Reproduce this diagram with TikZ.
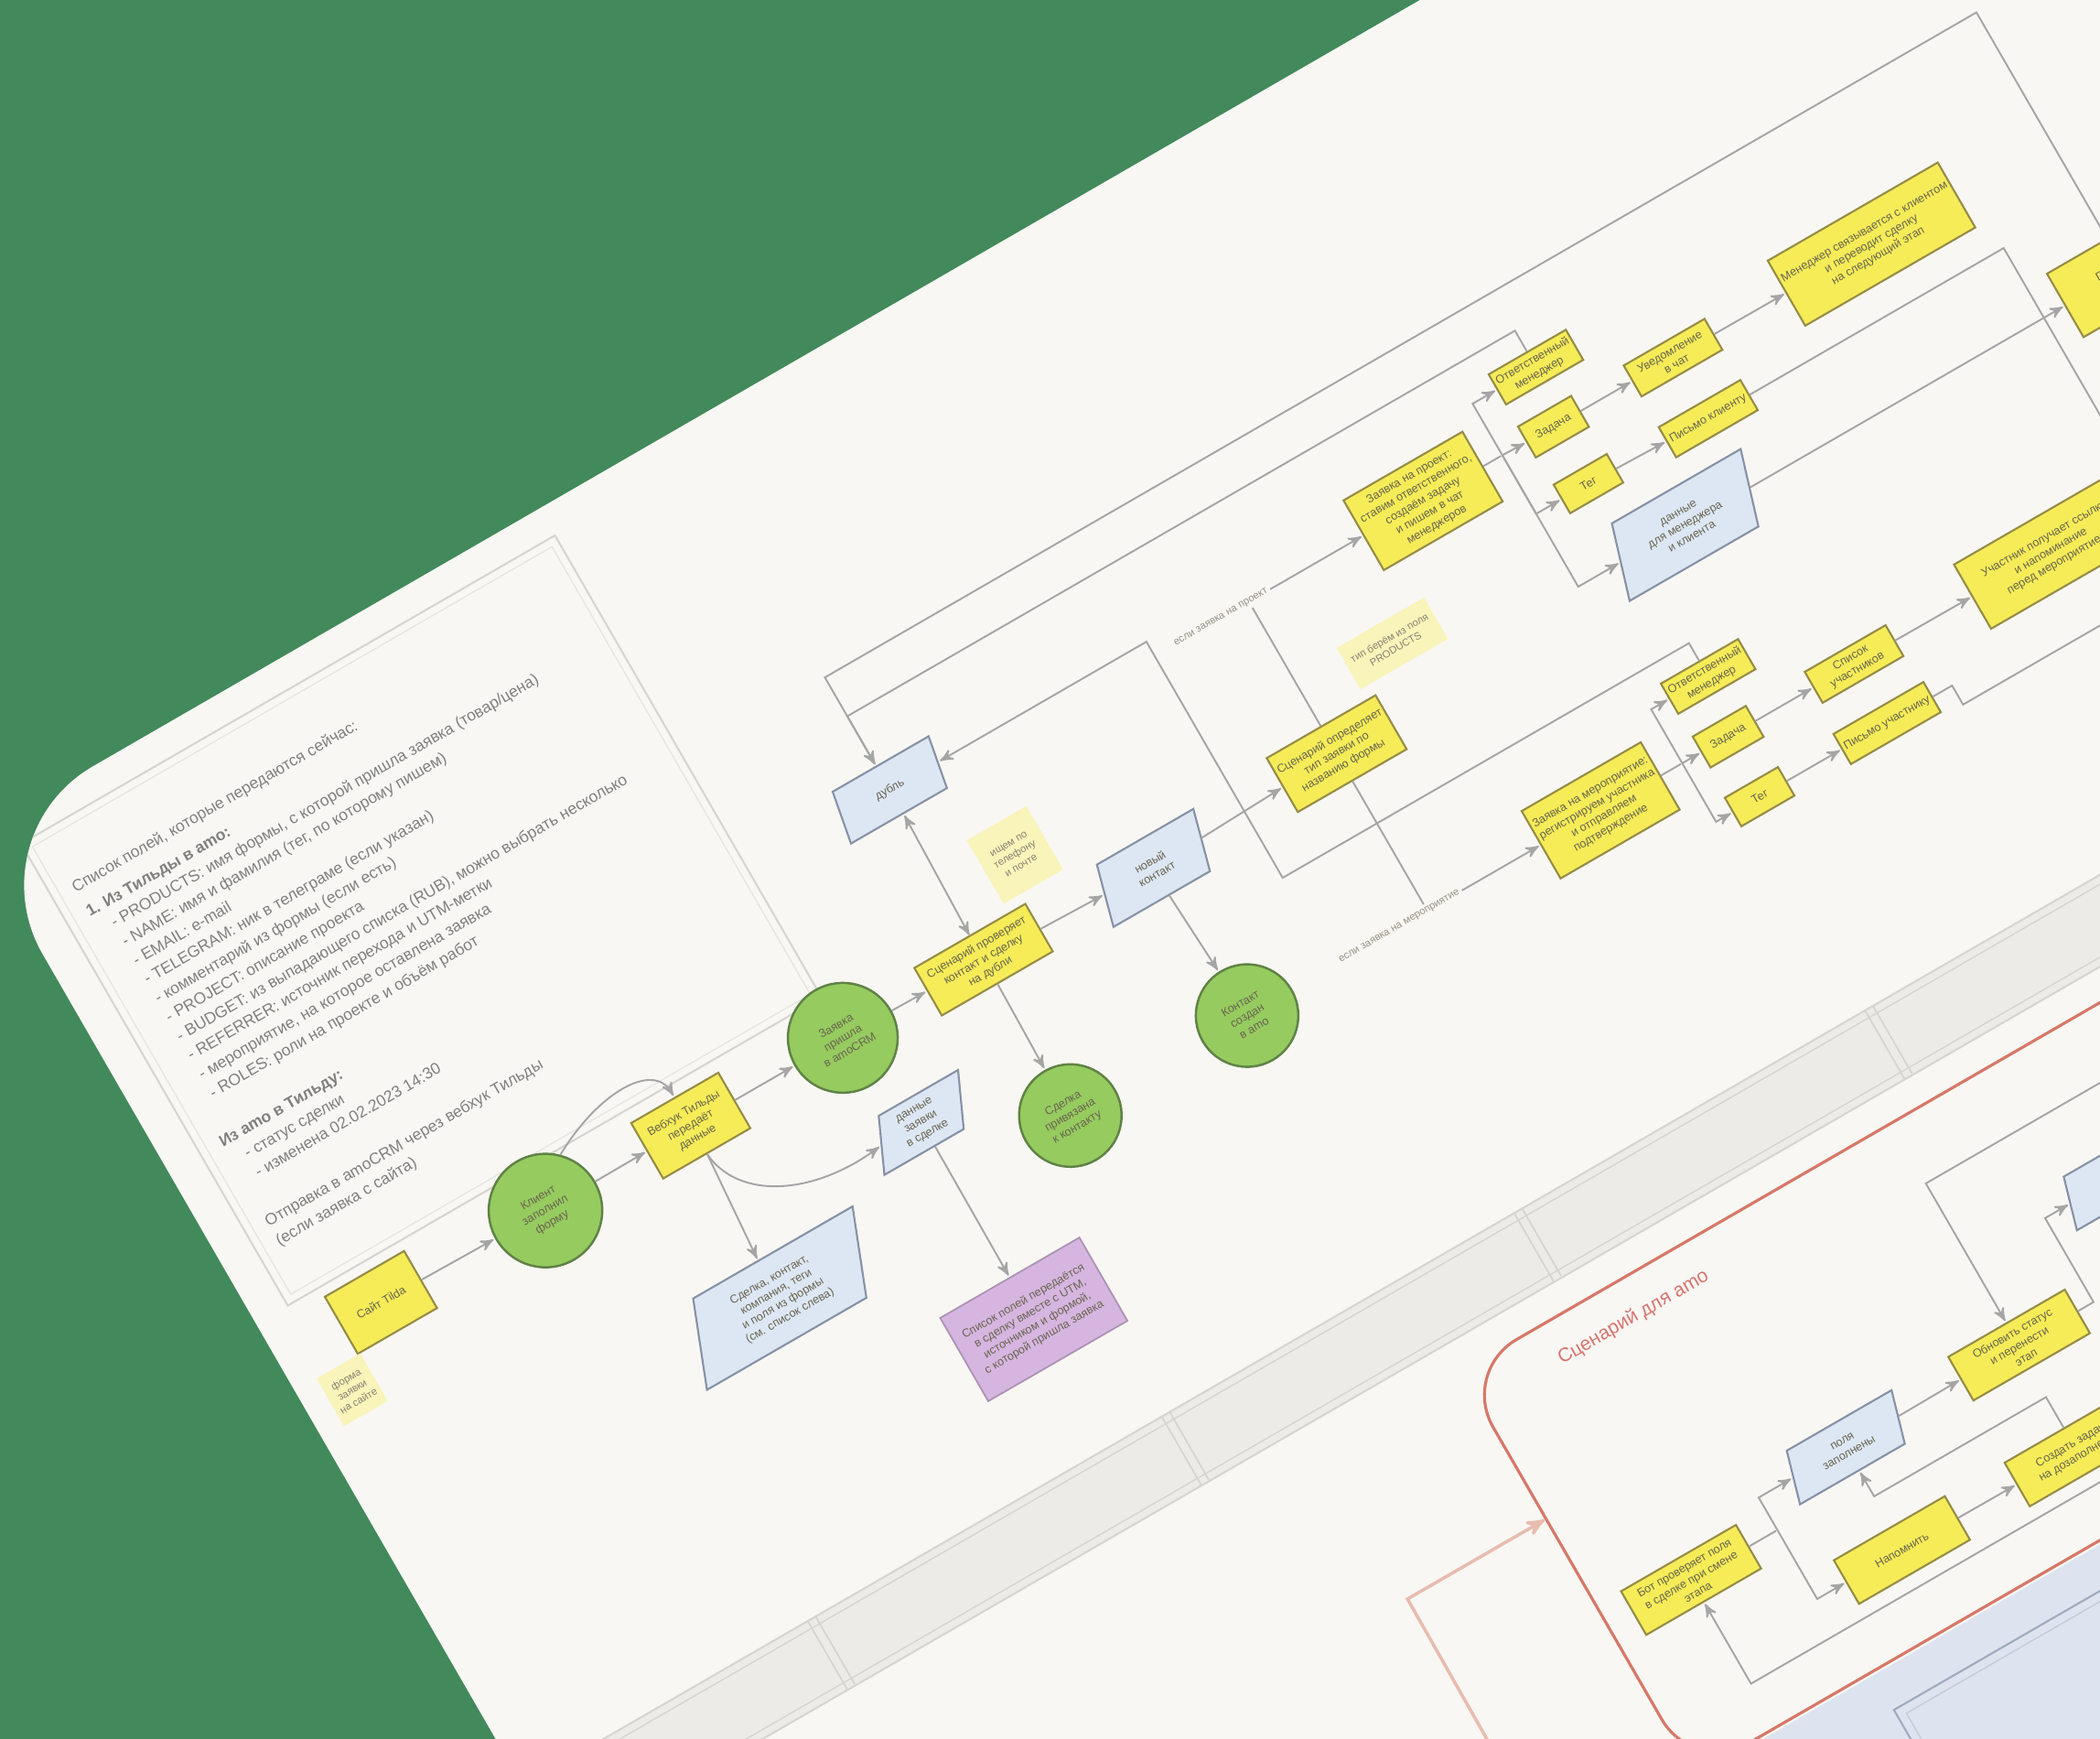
\documentclass[tikz,border=0pt]{standalone}
\usepackage{fontspec}
\setmainfont{Liberation Sans}
\usepackage{tikz}
\usetikzlibrary{arrows,shapes.geometric,positioning}

\definecolor{bggreen}{RGB}{66,137,91}
\definecolor{card}{RGB}{248,247,243}
\definecolor{procfill}{RGB}{245,236,88}
\definecolor{procline}{RGB}{150,140,70}
\definecolor{evfill}{RGB}{150,203,95}
\definecolor{evline}{RGB}{95,130,70}
\definecolor{datafill}{RGB}{221,231,244}
\definecolor{dataline}{RGB}{135,145,165}
\definecolor{notefill}{RGB}{249,244,185}
\definecolor{purp}{RGB}{214,182,224}
\definecolor{linkgray}{RGB}{165,165,165}
\definecolor{lane}{RGB}{236,235,231}
\definecolor{laneline}{RGB}{214,213,209}
\definecolor{redline}{RGB}{214,120,105}
\definecolor{redtext}{RGB}{215,115,110}
\definecolor{salmon}{RGB}{232,188,176}
\definecolor{bluezone}{RGB}{221,228,239}
\definecolor{bluezoneline}{RGB}{160,170,190}
\definecolor{txt}{RGB}{105,100,80}

\begin{document}
\begin{tikzpicture}[>=stealth', shorten >=0.5pt, semithick]
\tikzstyle{proc}=[rectangle, draw=procline, fill=procfill, line width=0.6pt, text=txt, align=center, inner sep=1pt, font=\fontsize{3.6}{4.3}\selectfont]
\tikzstyle{event}=[circle, draw=evline, fill=evfill, line width=0.7pt, text=txt, align=center, inner sep=1pt, font=\fontsize{3.6}{4.3}\selectfont]
\tikzstyle{data}=[trapezium, trapezium left angle=60, trapezium right angle=120, trapezium stretches body, draw=dataline, fill=datafill, line width=0.6pt, text=txt, align=center, inner sep=1pt, font=\fontsize{3.6}{4.3}\selectfont]
\tikzstyle{note}=[rectangle, fill=notefill, text=txt!80, align=center, inner sep=1pt, font=\fontsize{3.2}{3.9}\selectfont]
\tikzstyle{doc}=[rectangle, fill=purp, draw=purp!80!black, line width=0.5pt, text=txt, align=center, font=\fontsize{3.6}{4.3}\selectfont]
\tikzstyle{link}=[draw=linkgray, line width=0.55pt]
\tikzstyle{lbl}=[fill=card, text=txt!70, inner sep=1pt, font=\fontsize{3.2}{3.8}\selectfont]

\fill[bggreen] (0,0) rectangle (22.95,19);
\useasboundingbox (0,0) rectangle (22.95,19);

\begin{scope}[shift={(-0.285,9.876)}, rotate=30, x=0.01cm, y=-0.01cm, transform shape]
\fill[card, rounded corners=1.5cm] (0,0) rectangle (2600,2300);
\begin{scope}
\clip[rounded corners=1.5cm] (0,0) rectangle (2600,2300);

% lane header
\fill[lane] (0,1200) rectangle (2600,1287);
\draw[laneline, line width=0.6pt] (0,1200) -- (2600,1200) (0,1287) -- (2600,1287);
\draw[laneline, line width=0.4pt] (0,1209) -- (2600,1209) (0,1278) -- (2600,1278);
\foreach \pos in {365,812,1257,1700,2145}
  \draw[laneline, line width=0.5pt] (\pos-5,1200) -- (\pos-5,1287) (\pos+5,1200) -- (\pos+5,1287);

% field list
\draw[laneline, line width=0.6pt] (40,34) rectangle (714,617);
\draw[laneline!60, line width=0.4pt] (49,43) rectangle (705,608);
\node[anchor=north west, align=left, text=black!50, inner sep=0pt, font=\fontsize{5}{6.8}\selectfont] (list) at (64,96) {%
Список полей, которые передаются сейчас:\\[2pt]
\textbf{1. Из Тильды в amo:}\\
\quad- PRODUCTS: имя формы, с которой пришла заявка (товар/цена)\\
\quad- NAME: имя и фамилия (тег, по которому пишем)\\
\quad- EMAIL: e-mail\\
\quad- TELEGRAM: ник в телеграме (если указан)\\
\quad- комментарий из формы (если есть)\\
\quad- PROJECT: описание проекта\\
\quad- BUDGET: из выпадающего списка (RUB), можно выбрать несколько\\
\quad- REFERRER: источник перехода и UTM-метки\\
\quad- мероприятие, на которое оставлена заявка\\
\quad- ROLES: роли на проекте и объём работ\\[8pt]
\textbf{Из amo в Тильду:}\\
\quad- статус сделки\\
\quad- изменена 02.02.2023 14:30\\[8pt]
Отправка в amoCRM через вебхук Тильды\\
(если заявка с сайта)};

% amo zone
\fill[bluezone] (1190,1834) rectangle (2700,2400);
\draw[bluezoneline, line width=0.6pt] (1340,1878) rectangle (2700,2400);
\draw[bluezoneline!60, line width=0.4pt] (1350,1888) rectangle (2700,2400);
\draw[redline, line width=0.9pt, rounded corners=0.7cm] (1115,1321) rectangle (2700,1830);
\node[anchor=west, text=redtext, font=\fontsize{6}{7}\selectfont] (zonetitle) at (1202,1364) {Сценарий для amo};

% lower chain
\node[proc, minimum width=1cm, minimum height=0.72cm] (site) at (130,665) {Сайт Tilda};
\node[note, minimum width=0.55cm, minimum height=0.6cm] (sitenote) at (55,732) {форма\\заявки\\на сайте};
\node[event, minimum size=1.24cm] (ev1) at (336,668) {Клиент\\заполнил\\форму};
\node[proc, minimum width=1.1cm, minimum height=0.7cm] (hook) at (520,667) {Вебхук Тильды\\передаёт\\данные};
\node[event, minimum size=1.2cm] (ev2) at (712,667) {Заявка\\пришла\\в amoCRM};
\node[proc, minimum width=1.4cm, minimum height=0.6cm] (check) at (888,670) {Сценарий проверяет\\контакт и сделку\\на дубли};
\node[data, minimum width=1.32cm, minimum height=0.59cm] (dup) at (892,458) {дубль};
\node[note, minimum width=0.75cm, minimum height=0.8cm] (chknote) at (975,588) {ищем по\\телефону\\и почте};
\node[data, minimum width=1.4cm, minimum height=0.68cm] (newc) at (1099,676) {новый\\контакт};
\node[event, minimum size=1.12cm] (ev3) at (1107,867) {Контакт\\создан\\в amo};
\node[event, minimum size=1.12cm] (ev4) at (885,865) {Сделка\\привязана\\к контакту};
\node[data, minimum width=1.27cm, minimum height=0.59cm] (req) at (740,790) {данные\\заявки\\в сделке};
\node[data, minimum width=2.38cm, minimum height=0.94cm] (deal) at (510,879) {Сделка, контакт,\\компания, теги\\и поля из формы\\(см. список слева)};
\node[doc, minimum width=1.65cm, minimum height=1.05cm] (fields) at (739,1038) {Список полей передаётся\\в сделку вместе с UTM,\\источником и формой,\\с которой пришла заявка};

% branching
\node[proc, minimum width=1.3cm, minimum height=0.68cm] (type) at (1335,668) {Сценарий определяет\\тип заявки по\\названию формы};
\node[note, minimum width=1.1cm, minimum height=0.52cm] (typenote) at (1448,594) {тип берём из поля\\PRODUCTS};
\node[proc, minimum width=1.5cm, minimum height=0.88cm] (proj) at (1555,476) {Заявка на проект:\\ставим ответственного,\\создаём задачу\\и пишем в чат\\менеджеров};
\node[proc, minimum width=0.96cm, minimum height=0.38cm] (s1) at (1735,411) {Ответственный\\менеджер};
\node[proc, minimum width=0.67cm, minimum height=0.39cm] (s2) at (1719,477) {Задача};
\node[proc, minimum width=0.67cm, minimum height=0.36cm] (s3) at (1721,550) {Тег};
\node[proc, minimum width=1.02cm, minimum height=0.39cm] (s4) at (1870,477) {Уведомление\\в чат};
\node[proc, minimum width=1.03cm, minimum height=0.38cm] (s5) at (1870,554) {Письмо клиенту};
\node[data, minimum width=1.88cm, minimum height=0.83cm] (pd) at (1790,642) {данные\\для менеджера\\и клиента};
\node[proc, minimum width=1.98cm, minimum height=0.82cm] (mgr) at (2120,478) {Менеджер связывается с клиентом\\и переводит сделку\\на следующий этап};
\node[proc, minimum width=1.52cm, minimum height=0.8cm] (nxt) at (2346,642) {Повторная\\проверка};
\node[proc, minimum width=1.45cm, minimum height=0.85cm] (evt) at (1554,866) {Заявка на мероприятие:\\регистрируем участника\\и отправляем\\подтверждение};
\node[proc, minimum width=0.96cm, minimum height=0.38cm] (l1) at (1729,798) {Ответственный\\менеджер};
\node[proc, minimum width=0.67cm, minimum height=0.39cm] (l2) at (1715,866) {Задача};
\node[proc, minimum width=0.67cm, minimum height=0.36cm] (l3) at (1712,940) {Тег};
\node[proc, minimum width=1.02cm, minimum height=0.39cm] (l4) at (1874,866) {Список\\участников};
\node[proc, minimum width=1.03cm, minimum height=0.38cm] (l5) at (1873,940) {Письмо участнику};
\node[proc, minimum width=1.98cm, minimum height=0.81cm] (conf) at (2122,867) {Участник получает ссылку\\и напоминание\\перед мероприятием};

% amo scenario
\node[proc, minimum width=1.45cm, minimum height=0.55cm] (r1) at (1219,1644) {Бот проверяет поля\\в сделке при смене\\этапа};
\node[data, minimum width=1.49cm, minimum height=0.58cm] (rp1) at (1438,1603) {поля\\заполнены};
\node[proc, minimum width=1.4cm, minimum height=0.55cm] (r2) at (1435,1731) {Напомнить};
\node[proc, minimum width=1.47cm, minimum height=0.55cm] (r3) at (1658,1601) {Обновить статус\\и перенести\\этап};
\node[proc, minimum width=1.5cm, minimum height=0.55cm] (r4) at (1655,1732) {Создать задачу\\на дозаполнение};
\node[data, minimum width=1.49cm, minimum height=0.58cm] (rp2) at (1850,1495) {этап\\изменён};

% connectors
\draw[link,->] (site) -- (ev1);
\draw[link,->] (ev1) -- (hook);
\draw[link,->] (hook) -- (ev2);
\draw[link,->] (ev2) -- (check);
\draw[link,->] (check) -- (newc);
\draw[link,->] (newc) -- (type);
\draw[link,<->] (check.north) -- (dup.south);
\draw[link,->] (check.south) -- (ev4);
\draw[link,->] (newc.south) -- (ev3);
\draw[link,->] (hook.south) -- (deal.north);
\draw[link,->] (hook.south) .. controls (525,765) and (600,800) .. (req.west);
\draw[link,->] (ev1.north east) .. controls (450,585) and (520,585) .. (hook.north);
\draw[link,->] (req.south) -- (fields.north);

\draw[link,->] (type.north) -- (1335,476) -- (proj.west);
\draw[link,->] (type.south) -- (1335,866) -- (evt.west);
\node[lbl] (lblproj) at (1300,476) {если заявка на проект};
\node[lbl] (lblevt) at (1300,866) {если заявка на мероприятие};

\draw[link,->] (l1.north) -- (1729,756) -- (1216,756) -- (1216,458) -- (dup.east);
\draw[link,->] (s1.north) -- (1735,365) -- (892,365) -- (dup.north);
\draw[link,->] (nxt.north) -- (2346,316) -- (892,316) -- (dup.north);

\coordinate (jp) at (1655,476);
\draw[link] (proj.east) -- (jp);
\draw[link,->] (jp) -- (1655,411) -- (s1.west);
\draw[link,->] (jp) -- (s2.west);
\draw[link,->] (jp) -- (1655,550) -- (s3.west);
\draw[link,->] (jp) -- (1655,642) -- (pd.west);
\draw[link,->] (s2) -- (s4);
\draw[link,->] (s3) -- (s5);
\draw[link,->] (s4) -- (mgr);
\coordinate (s5out) at (2243,1000);
\draw[link] (s5.east) -- (2243,554) -- (s5out);
\draw[link,->] (pd.east) -- (nxt.west);

\coordinate (je) at (1657,866);
\draw[link] (evt.east) -- (je);
\draw[link,->] (je) -- (1657,798) -- (l1.west);
\draw[link,->] (je) -- (l2.west);
\draw[link,->] (je) -- (1657,940) -- (l3.west);
\draw[link,->] (l2) -- (l4);
\draw[link,->] (l3) -- (l5);
\draw[link,->] (l4) -- (conf);
\coordinate (l5out) at (2500,964);
\draw[link] (l5.east) -- (1955,940) -- (1955,964) -- (l5out);

\coordinate (jr) at (1328,1644);
\draw[link] (r1.east) -- (jr);
\draw[link,->] (jr) -- (1328,1603) -- (rp1.west);
\draw[link,->] (jr) -- (1328,1731) -- (r2.west);
\draw[link,->] (rp1) -- (r3);
\draw[link,->] (r2) -- (r4);
\draw[link,->] (r4.north) -- (1655,1665) -- (1438,1665) -- (rp1.south);
\coordinate (r3in) at (2700,1397);
\draw[link,->] (r3in) -- (1658,1397) -- (r3.north);
\draw[link,->] (r3.east) -- (1752,1601) -- (1752,1495) -- (rp2.west);
\coordinate (r1in) at (2700,1775);
\draw[link,->] (r1in) -- (1219,1775) -- (r1.south);
\coordinate (zsrc) at (935,2150);
\coordinate (zin) at (1115,1507);
\draw[salmon, line width=1pt, ->] (zsrc) -- (940,1507) -- (zin);
\end{scope}
\end{scope}
\end{tikzpicture}
\end{document}
